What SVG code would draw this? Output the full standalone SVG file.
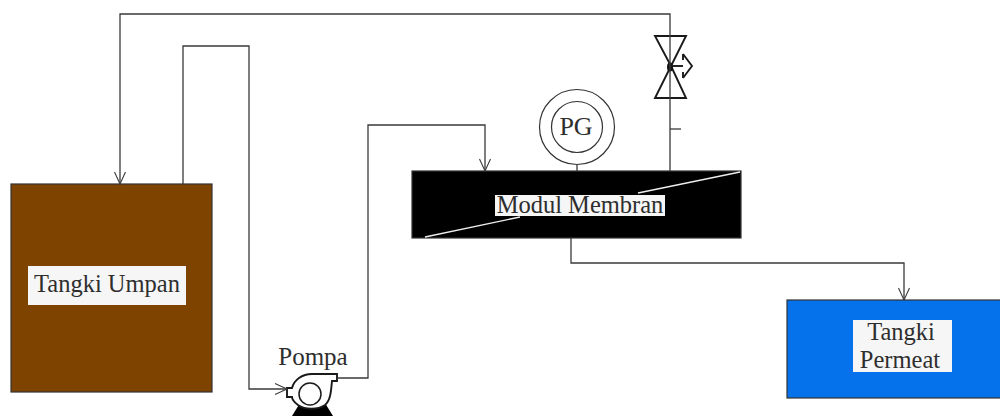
<svg xmlns="http://www.w3.org/2000/svg" width="1000" height="416" viewBox="0 0 1000 416">
<style>
.c{fill:none;stroke:#3a3a3a;stroke-width:1.3}
.s{fill:none;stroke:#1a1a1a;stroke-width:1.9}
.t{font-family:"Liberation Serif",serif;font-size:24.500px;fill:#2e2e2e;text-anchor:middle}
.box{stroke:#333;stroke-width:1.200}
.lab{fill:#f6f6f6}
</style>
<defs>
<marker id="a" markerUnits="userSpaceOnUse" markerWidth="16" markerHeight="14" refX="13" refY="7" orient="auto"><path d="M1 1.500L13 7L1 12.500" fill="none" stroke="#3a3a3a" stroke-width="1.100"/></marker>
</defs>
<rect width="1000" height="416" fill="#fff"/>
<g id="tangki-umpan">
<rect class="box" x="11" y="184" width="201" height="208" fill="#7f4300"/>
<rect class="lab" x="28" y="266" width="158" height="39"/>
<text class="t" x="107" y="292">Tangki Umpan</text>
</g>
<g id="modul-membran">
<rect class="box" x="412" y="171" width="329" height="67" fill="#000"/>
<path d="M425 237L520 217M638 193L740 172" fill="none" stroke="#eee" stroke-width="1.300"/>
<rect class="lab" x="495" y="195" width="170" height="21"/>
<text class="t" x="580" y="213">Modul Membran</text>
</g>
<g id="tangki-permeat">
<rect class="box" x="787" y="300" width="214" height="98" fill="#0572ec"/>
<rect class="lab" x="853" y="320" width="99" height="52"/>
<text class="t" x="901" y="340">Tangki</text>
<text class="t" x="900" y="368">Permeat</text>
</g>
<g id="pg">
<circle cx="577" cy="127" r="37.500" fill="none" stroke="#333" stroke-width="1.200"/>
<circle cx="577" cy="127" r="25.500" fill="none" stroke="#333" stroke-width="1.200"/>
<text class="t" x="576" y="135" style="font-size:26px">PG</text>
<path class="c" d="M577 164V171"/>
</g>
<g id="pompa">
<text class="t" x="313" y="365" style="font-size:25px">Pompa</text>
<path d="M292 416L300 403H325L333 416Z" fill="#000"/>
<path class="s" fill="#fff" style="fill:#fff" d="M292 397H287V388H292C294 380 302 374 312 374H337V381H332C331 390 331 400 325 405C318 410 305 410 298 405C294 402 292 400 292 397Z"/>
<circle cx="310" cy="394" r="11" fill="#fff" stroke="#1a1a1a" stroke-width="1.500"/>
</g>
<g id="valve">
<path d="M655 36H686L671 66L686 98H655L671 66Z" class="s"/>
<ellipse cx="670" cy="67" rx="3" ry="4.500" fill="#111"/>
<path d="M670 66H683" class="s"/>
<path d="M683 54L692 66L683 78M683 54V60M683 72V78" class="s" stroke-width="2"/>
<path d="M670 129H681" class="c"/>
</g>
<g id="connectors">
<path class="c" d="M670 171V14H120V184" marker-end="url(#a)"/>
<path class="c" d="M183 184V46H249V389H287" marker-end="url(#a)"/>
<path class="c" d="M337 378H368V125H485V171" marker-end="url(#a)"/>
<path class="c" d="M571 238V263H904V300" marker-end="url(#a)"/>
</g>
</svg>
